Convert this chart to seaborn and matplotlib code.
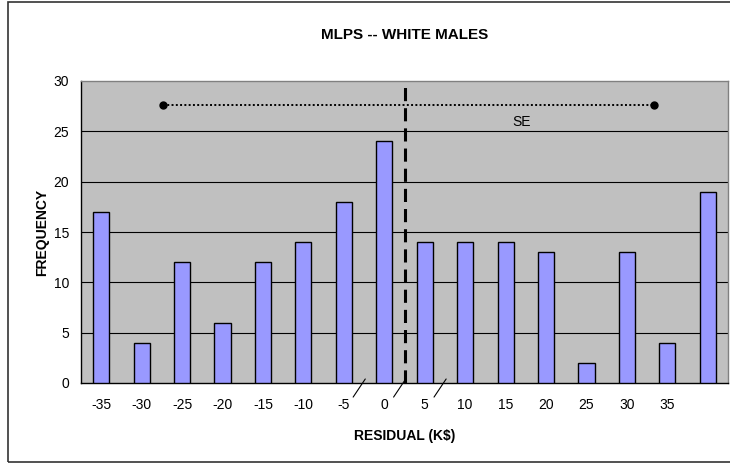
import matplotlib.pyplot as plt
import matplotlib.patches as patches
import pandas as pd
import seaborn as sns

# residual bins (K$), last bin has no label on the axis
bins = [-35, -30, -25, -20, -15, -10, -5, 0, 5, 10, 15, 20, 25, 30, 35, 40]
freq = [17, 4, 12, 6, 12, 14, 18, 24, 14, 14, 14, 13, 2, 13, 4, 19]
tick_labels = ["-35", "-30", "-25", "-20", "-15", "-10", "-5", "0",
               "5", "10", "15", "20", "25", "30", "35", ""]
y_ticks = [0, 5, 10, 15, 20, 25, 30]

mean_resid = 2.6     # dashed line
se_low = -27.4       # SE bracket ends
se_high = 33.4

# leader lines start at the tick boundary right of these bins
leader_bins = [-5, 0, 5]


def to_pos(r):
    """residual value -> categorical position used by seaborn"""
    return (r - bins[0]) / 5.0


sns.set_style("white")
plt.rcParams["font.family"] = ["Liberation Sans", "DejaVu Sans"]
for key in ["text.color", "axes.labelcolor", "xtick.color", "ytick.color"]:
    plt.rcParams[key] = "black"

df = pd.DataFrame({"bin": [str(b) for b in bins], "freq": freq})

fig = plt.figure(figsize=(7.3, 4.63), dpi=100)
ax = fig.add_axes([81 / 730, 1 - 383 / 463, 647 / 730, 302 / 463])

sns.barplot(data=df, x="bin", y="freq", order=df["bin"], color="#9999FF",
            saturation=1, width=0.4, edgecolor="black", linewidth=1,
            ax=ax, zorder=3)

ax.set_facecolor("#C0C0C0")
ax.set_xlim(-0.5, len(bins) - 0.5)
ax.set_ylim(0, 30)
ax.set_yticks(y_ticks)
for y in y_ticks[1:-1]:
    ax.axhline(y, color="black", lw=0.8, zorder=1)

ax.set_xticks(range(len(bins)))
ax.set_xticklabels(tick_labels, fontsize=10)
ax.set_xticks([i + 0.5 for i in range(len(bins))], minor=True)
ax.tick_params(axis="x", which="major", length=0, pad=11)
ax.tick_params(axis="x", which="minor", length=4, direction="in",
               color="black", width=0.8)
ax.tick_params(axis="y", length=0, pad=8.5, labelsize=10)

for side in ["top", "right"]:
    ax.spines[side].set_color("#808080")
    ax.spines[side].set_linewidth(1)
for side in ["left", "bottom"]:
    ax.spines[side].set_color("black")
    ax.spines[side].set_linewidth(1)

# mean line and SE bracket
ax.plot([to_pos(mean_resid)] * 2, [0, 30], color="black", lw=2.2,
        linestyle=(0, (4.3, 2.3)), zorder=4, clip_on=False)
ax.plot([to_pos(se_low), to_pos(se_high)], [27.6, 27.6], color="black",
        lw=1.4, linestyle=(0, (1, 1.2)), zorder=4)
ax.plot([to_pos(se_low), to_pos(se_high)], [27.6, 27.6], "o", color="black",
        markersize=5, zorder=5)
ax.text(10.4, 25.9, "SE", fontsize=10, ha="center", va="center", zorder=5)

# small leader lines under the axis
for b in leader_bins:
    p = to_pos(b) + 0.5
    ax.plot([p + 0.03, p - 0.27], [0.4, -1.4], color="black", lw=0.8,
            clip_on=False, zorder=5)

ax.set_title("MLPS -- WHITE MALES", fontsize=11, fontweight="bold", pad=30)
ax.set_xlabel("RESIDUAL (K$)", fontsize=10, fontweight="bold", labelpad=12)
ax.set_ylabel("FREQUENCY", fontsize=10, fontweight="bold", labelpad=3)

# outer chart border
fig.patches.append(patches.Rectangle((8 / 730, 1.5 / 463), 1.0, 460 / 463,
                                     transform=fig.transFigure, fill=False,
                                     edgecolor="#333333", lw=1.2))

fig.savefig("out.png", dpi=100)
